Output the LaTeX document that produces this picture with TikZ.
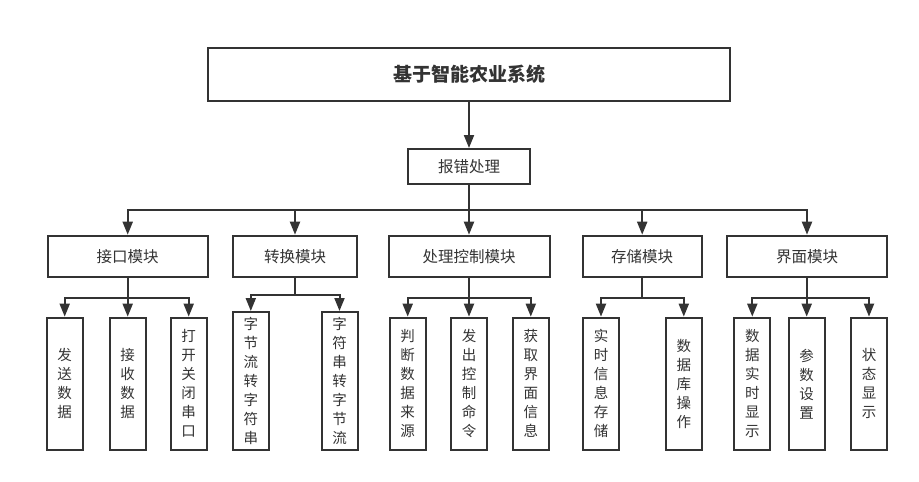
\documentclass[tikz,border=0pt]{standalone}
\usepackage{fontspec}
\newfontfamily\cjk{Noto Sans CJK SC}
\usetikzlibrary{positioning,arrows.meta}
\definecolor{linegray}{HTML}{333333}
\tikzset{
  box/.style={draw=linegray, line width=2pt, inner sep=0pt, text=linegray, align=center},
  sysbox/.style={box, minimum width=522pt, minimum height=53pt, font=\cjk\bfseries\fontsize{19}{22}\selectfont},
  modbox/.style={box, minimum height=41.6pt, font=\cjk\fontsize{15.5}{18}\selectfont},
  leafbox/.style={box, minimum width=36pt, minimum height=132.3pt, font=\cjk\fontsize{14.5}{19}\selectfont},
  arr/.style={draw=linegray, line width=2pt, -{Triangle[length=13pt,width=10pt]}},
}

\begin{document}
\begin{tikzpicture}[x=1pt, y=-1pt]
  \useasboundingbox (0,0) rectangle (919,482);

  % Top levels
  \node[sysbox] (sys) at (469, 74.5) {基于智能农业系统};
  \node[box, minimum width=122pt, minimum height=35pt, font=\cjk\fontsize{15.5}{18}\selectfont] (err) at (469, 166.5) {报错处理};
  \draw[arr] (sys) -- (err);

  % Modules
  \node[modbox, minimum width=160pt] (iface) at (127.7, 256.5) {接口模块};
  \node[modbox, minimum width=124.6pt] (conv) at (295, 256.5) {转换模块};
  \node[modbox, minimum width=161pt] (proc) at (469, 256.5) {处理控制模块};
  \node[modbox, minimum width=119pt] (store) at (642.2, 256.5) {存储模块};
  \node[modbox, minimum width=160.6pt] (ui) at (807, 256.5) {界面模块};
  \coordinate (bus) at (469, 210);
  \foreach \m in {iface, conv, proc, store, ui}
    \draw[arr] (err.south) -- (err.south |- bus) -| (\m.north);

  % Interface leaves
  \node[leafbox] (send) at (64.7, 383.8) {发\\送\\数\\据};
  \node[leafbox] (recv) at (127.7, 383.8) {接\\收\\数\\据};
  \node[leafbox] (port) at (188.7, 383.8) {打\\开\\关\\闭\\串\\口};
  \foreach \l in {send, recv, port}
    \draw[arr] (iface.south) -- ++(0,20) -| (\l.north);

  % Conversion leaves
  \node[leafbox, minimum height=138pt] (b2s) at (250.8, 381) {字\\节\\流\\转\\字\\符\\串};
  \node[leafbox, minimum height=138pt] (s2b) at (339.5, 381) {字\\符\\串\\转\\字\\节\\流};
  \foreach \l in {b2s, s2b}
    \draw[arr] (conv.south) -- ++(0,17) -| (\l.north);

  % Processing leaves
  \node[leafbox] (judge) at (407.7, 383.8) {判\\断\\数\\据\\来\\源};
  \node[leafbox] (cmd) at (469, 383.8) {发\\出\\控\\制\\命\\令};
  \node[leafbox] (fetch) at (530.8, 383.8) {获\\取\\界\\面\\信\\息};
  \foreach \l in {judge, cmd, fetch}
    \draw[arr] (proc.south) -- ++(0,20) -| (\l.north);

  % Storage leaves
  \node[leafbox] (rtsave) at (601, 383.8) {实\\时\\信\\息\\存\\储};
  \node[leafbox] (dbop) at (683.8, 383.8) {数\\据\\库\\操\\作};
  \foreach \l in {rtsave, dbop}
    \draw[arr] (store.south) -- ++(0,20) -| (\l.north);

  % UI leaves
  \node[leafbox] (rtshow) at (752.3, 383.8) {数\\据\\实\\时\\显\\示};
  \node[leafbox] (param) at (806.7, 383.8) {参\\数\\设\\置};
  \node[leafbox] (state) at (869, 383.8) {状\\态\\显\\示};
  \foreach \l in {rtshow, param, state}
    \draw[arr] (ui.south) -- ++(0,20) -| (\l.north);
\end{tikzpicture}
\end{document}
